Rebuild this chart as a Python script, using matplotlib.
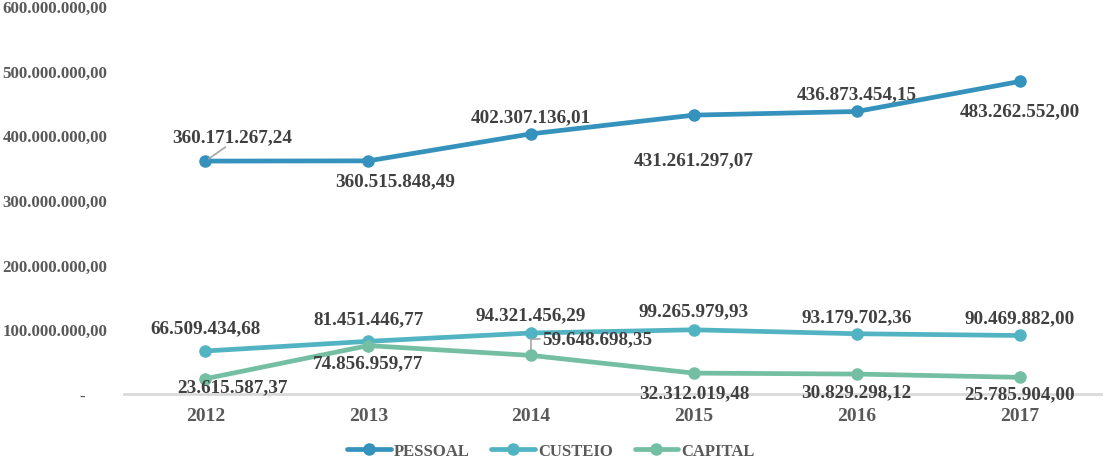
import matplotlib
matplotlib.use('Agg')
import matplotlib.pyplot as plt
from matplotlib.ticker import FixedLocator

# dados (R$)
anos = ['2012', '2013', '2014', '2015', '2016', '2017']
pessoal = [360171267.24, 360515848.49, 402307136.01, 431261297.07, 436873454.15, 483262552.00]
custeio = [66509434.68, 81451446.77, 94321456.29, 99265979.93, 93179702.36, 90469882.00]
capital = [23615587.37, 74856959.77, 59648698.35, 32312019.48, 30829298.12, 25785904.00]
y_ticks = [0, 100e6, 200e6, 300e6, 400e6, 500e6, 600e6]

C_PES = '#3592BD'; C_CUS = '#52B4C2'; C_CAP = '#74BFA4'
TXT = '#404040'; TICK = '#595959'
plt.rcParams['font.family'] = ['Liberation Serif', 'DejaVu Serif']
plt.rcParams['font.weight'] = 'bold'


def br(v):
    """360171267.24 -> '360.171.267,24'"""
    s = f'{v:,.2f}'
    return s.replace(',', '#').replace('.', ',').replace('#', '.')


# label offsets in pixels (dx, dy), y up
off_pes = [(27, 24), (27, -20), (0, 17), (0, -45), (0, 18), (0, -29)]
off_cus = [(0, 23), (0, 23), (0, 18), (0, 19), (0, 17), (0, 18)]
off_cap = [(27, -8), (0, -17), (66, 17), (0, -20), (0, -18), (0, -16)]

fig = plt.figure(figsize=(11.2, 4.6), dpi=100)
ax = fig.add_axes([124 / 1120, 1 - 395 / 460, (1101 - 124) / 1120, (395 - 7) / 460])
x = list(range(len(anos)))

for vals, col, lab, offs in [(pessoal, C_PES, 'PESSOAL', off_pes),
                             (custeio, C_CUS, 'CUSTEIO', off_cus),
                             (capital, C_CAP, 'CAPITAL', off_cap)]:
    ax.plot(x, vals, color=col, lw=3.4, marker='o', ms=8, label=lab,
            solid_capstyle='round', zorder=3)
    for i, v in enumerate(vals):
        dx, dy = offs[i]
        ax.annotate(br(v), (i, v), xytext=(dx * 0.72, dy * 0.72),
                    textcoords='offset points', ha='center', va='center',
                    fontsize=13.8, fontweight='bold', color=TXT, zorder=4)

# leader lines
ax.annotate('', (0, pessoal[0]), xytext=(20 * 0.72, 14 * 0.72), textcoords='offset points',
            arrowprops=dict(arrowstyle='-', color='#A6A6A6', lw=1.2, shrinkA=0, shrinkB=3))
ax.annotate('', (2, capital[2]), xytext=(9 * 0.72, 16 * 0.72), textcoords='offset points',
            arrowprops=dict(arrowstyle='-', color='#A6A6A6', lw=1.2, shrinkA=0, shrinkB=4,
                            connectionstyle='angle,angleA=0,angleB=90,rad=0'))

ax.set_xlim(-0.5, 5.5)
ax.set_ylim(0, 600e6)
ax.set_xticks(x, anos)
ax.yaxis.set_major_locator(FixedLocator(y_ticks))
ax.set_yticklabels(['-     '] + [br(t) for t in y_ticks[1:]])
ax.tick_params(axis='x', length=0, pad=9.5, labelsize=14, labelcolor=TICK)
ax.tick_params(axis='y', length=0, pad=12, labelsize=12.2, labelcolor=TICK)
for t in ax.get_xticklabels() + ax.get_yticklabels():
    t.set_fontweight('bold')
for s in ['top', 'right', 'left']:
    ax.spines[s].set_visible(False)
ax.spines['bottom'].set_color('#D9D9D9')
ax.spines['bottom'].set_linewidth(2)

leg = fig.legend(loc='center', bbox_to_anchor=(551 / 1120, 1 - 452 / 460), ncol=3,
                 frameon=False, handlelength=2.6, handletextpad=0.2,
                 columnspacing=1.3, prop={'weight': 'bold', 'size': 12})
for t in leg.get_texts():
    t.set_color(TICK)

fig.savefig('out.png', dpi=100, facecolor='white')
